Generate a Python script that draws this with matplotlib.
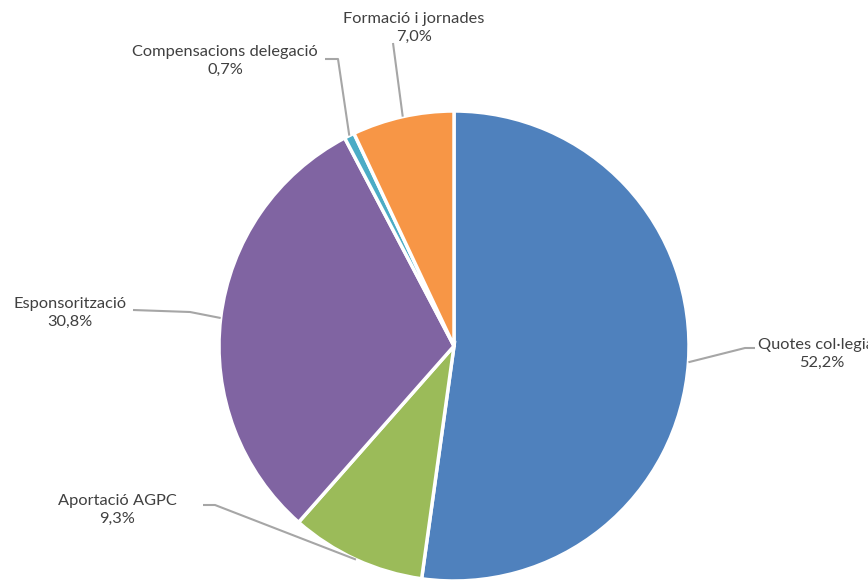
import matplotlib
matplotlib.use("Agg")
import matplotlib.pyplot as plt
import numpy as np

categories = ["Quotes col·legials", "Aportació AGPC", "Esponsorització",
              "Compensacions delegació", "Formació i jornades"]
values = [52.2, 9.3, 30.8, 0.7, 7.0]
pct_labels = ["52,2%", "9,3%", "30,8%", "0,7%", "7,0%"]
colors = ["#4F81BD", "#9BBB59", "#8064A2", "#4BACC6", "#F79646"]

W, H = 868, 580
fig = plt.figure(figsize=(W / 100, H / 100), dpi=100)
ax = fig.add_axes([0, 0, 1, 1])
ax.set_xlim(0, W)
ax.set_ylim(0, H)
ax.set_aspect("equal")
ax.axis("off")

cx, cy, R = 454, H - 346, 235
wedges, _ = ax.pie(values, colors=colors, startangle=90, counterclock=False,
                   center=(cx, cy), radius=R,
                   wedgeprops=dict(edgecolor="white", linewidth=2.5))
ax.set_xlim(0, W)
ax.set_ylim(0, H)

# layout: elbow points (pixel coords from top) and text center
layout = [
    dict(path=[(745, 348), (755, 348)], text=(822, 354)),
    dict(path=[(215, 505), (203, 505)], text=(117, 510)),
    dict(path=[(190, 312), (133, 310)], text=(70, 313)),
    dict(path=[(338, 59), (325, 59)], text=(225, 61)),
    dict(path=[(393, 43)], text=(414, 28)),
]

line_col = "#A6A6A6"
txt_col = "#404040"
for w, cat, pct, lay in zip(wedges, categories, pct_labels, layout):
    mid = np.deg2rad((w.theta1 + w.theta2) / 2)
    ax_pt = (cx + R * np.cos(mid), cy + R * np.sin(mid))
    xs = [ax_pt[0]] + [p[0] for p in lay["path"]]
    ys = [ax_pt[1]] + [H - p[1] for p in lay["path"]]
    ax.plot(xs, ys, color=line_col, lw=1.5, solid_capstyle="butt", clip_on=False)
    tx, ty = lay["text"]
    ax.text(tx, H - ty, f"{cat}\n{pct}", ha="center", va="center",
            fontsize=11.8, family="Lato", color=txt_col, linespacing=1.3,
            clip_on=False)

fig.savefig("out.png", dpi=100)
